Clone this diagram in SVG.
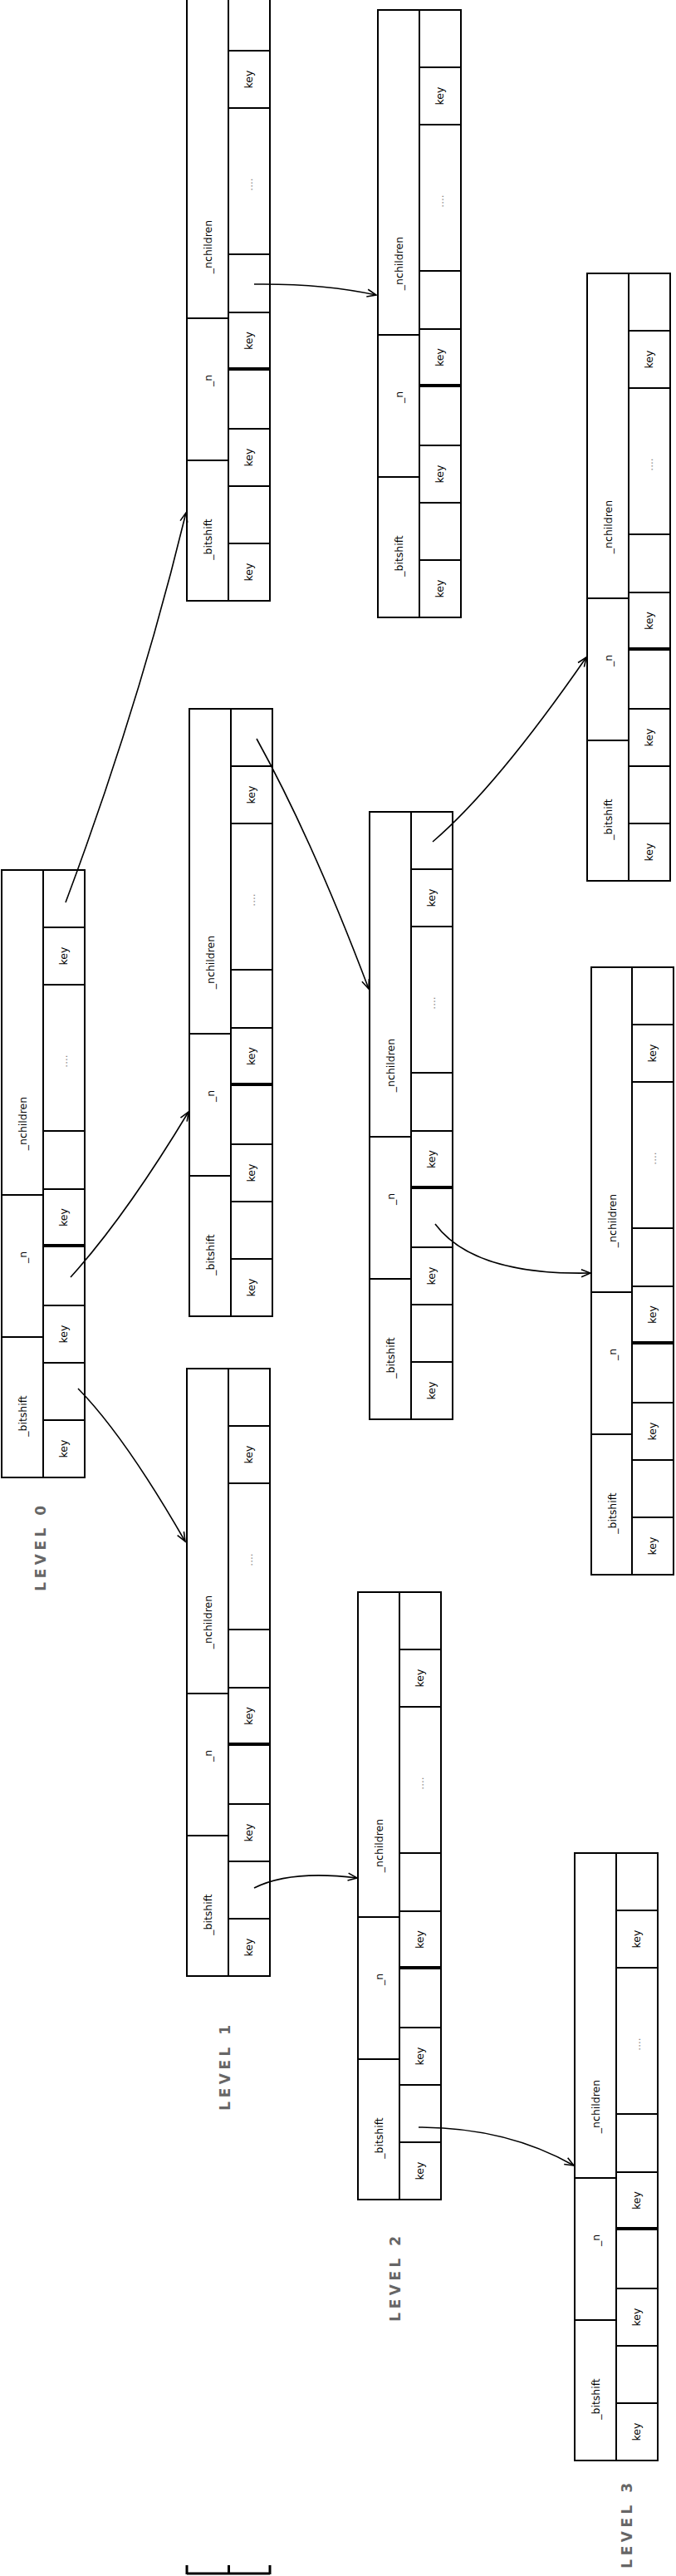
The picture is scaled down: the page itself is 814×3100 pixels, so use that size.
<svg xmlns="http://www.w3.org/2000/svg" width="814" height="3100" viewBox="0 0 814 3100">
<style>
.box{fill:#fff;stroke:#000;stroke-width:2}
.ln{stroke:#000;stroke-width:2;fill:none}
.thk{stroke:#000;stroke-width:4;fill:none}
.t{font-family:"DejaVu Sans",sans-serif;font-size:12.5px;fill:#000;text-anchor:middle}
.d{font-family:"DejaVu Sans",sans-serif;font-size:12px;fill:#888;text-anchor:middle}
.lv{font-family:"DejaVu Sans",sans-serif;font-size:17px;font-weight:bold;fill:#666;text-anchor:middle;letter-spacing:4.5px}
.c{stroke:#000;stroke-width:1.6;fill:none;marker-end:url(#ah)}
</style>
<defs>
<marker id="ah" markerUnits="userSpaceOnUse" viewBox="-1 -6 14 12" refX="11" refY="0" markerWidth="14" markerHeight="12" orient="auto">
<path d="M0,-4.5 L11,0 L0,4.5" fill="none" stroke="#000" stroke-width="1.6"/>
</marker>
</defs>
<rect width="814" height="3100" fill="#fff"/>

<g id="node-l0">
<rect class="box" x="2" y="1047" width="100" height="731"/>
<path class="ln" d="M52,1047V1778M2,1438H52M2,1609H52M52,1116H102M52,1185H102M52,1361H102M52,1431H102M52,1571H102M52,1640H102M52,1709H102"/>
<path class="thk" d="M52,1499H102"/>
<text class="t" transform="translate(32,1352) rotate(-90)">_nchildren</text>
<text class="t" transform="translate(32,1513) rotate(-90)">_n</text>
<text class="t" transform="translate(32,1704) rotate(-90)">_bitshift</text>
<text class="t" transform="translate(81,1150.5) rotate(-90)">key</text>
<text class="d" transform="translate(81,1277) rotate(-90)">....</text>
<text class="t" transform="translate(81,1465) rotate(-90)">key</text>
<text class="t" transform="translate(81,1605.5) rotate(-90)">key</text>
<text class="t" transform="translate(81,1743.5) rotate(-90)">key</text>
</g>

<g id="node-a">
<rect class="box" x="225" y="-8" width="100" height="731"/>
<path class="ln" d="M275,-8V723M225,383H275M225,554H275M275,61H325M275,130H325M275,306H325M275,376H325M275,516H325M275,585H325M275,654H325"/>
<path class="thk" d="M275,444H325"/>
<text class="t" transform="translate(255,297) rotate(-90)">_nchildren</text>
<text class="t" transform="translate(255,458) rotate(-90)">_n</text>
<text class="t" transform="translate(255,649) rotate(-90)">_bitshift</text>
<text class="t" transform="translate(304,95.5) rotate(-90)">key</text>
<text class="d" transform="translate(304,222) rotate(-90)">....</text>
<text class="t" transform="translate(304,410) rotate(-90)">key</text>
<text class="t" transform="translate(304,550.5) rotate(-90)">key</text>
<text class="t" transform="translate(304,688.5) rotate(-90)">key</text>
</g>

<g id="node-b">
<rect class="box" x="455" y="12" width="100" height="731"/>
<path class="ln" d="M505,12V743M455,403H505M455,574H505M505,81H555M505,150H555M505,326H555M505,396H555M505,536H555M505,605H555M505,674H555"/>
<path class="thk" d="M505,464H555"/>
<text class="t" transform="translate(485,317) rotate(-90)">_nchildren</text>
<text class="t" transform="translate(485,478) rotate(-90)">_n</text>
<text class="t" transform="translate(485,669) rotate(-90)">_bitshift</text>
<text class="t" transform="translate(534,115.5) rotate(-90)">key</text>
<text class="d" transform="translate(534,242) rotate(-90)">....</text>
<text class="t" transform="translate(534,430) rotate(-90)">key</text>
<text class="t" transform="translate(534,570.5) rotate(-90)">key</text>
<text class="t" transform="translate(534,708.5) rotate(-90)">key</text>
</g>

<g id="node-c">
<rect class="box" x="228" y="853" width="100" height="731"/>
<path class="ln" d="M278,853V1584M228,1244H278M228,1415H278M278,922H328M278,991H328M278,1167H328M278,1237H328M278,1377H328M278,1446H328M278,1515H328"/>
<path class="thk" d="M278,1305H328"/>
<text class="t" transform="translate(258,1158) rotate(-90)">_nchildren</text>
<text class="t" transform="translate(258,1319) rotate(-90)">_n</text>
<text class="t" transform="translate(258,1510) rotate(-90)">_bitshift</text>
<text class="t" transform="translate(307,956.5) rotate(-90)">key</text>
<text class="d" transform="translate(307,1083) rotate(-90)">....</text>
<text class="t" transform="translate(307,1271) rotate(-90)">key</text>
<text class="t" transform="translate(307,1411.5) rotate(-90)">key</text>
<text class="t" transform="translate(307,1549.5) rotate(-90)">key</text>
</g>

<g id="node-d">
<rect class="box" x="225" y="1647" width="100" height="731"/>
<path class="ln" d="M275,1647V2378M225,2038H275M225,2209H275M275,1716H325M275,1785H325M275,1961H325M275,2031H325M275,2171H325M275,2240H325M275,2309H325"/>
<path class="thk" d="M275,2099H325"/>
<text class="t" transform="translate(255,1952) rotate(-90)">_nchildren</text>
<text class="t" transform="translate(255,2113) rotate(-90)">_n</text>
<text class="t" transform="translate(255,2304) rotate(-90)">_bitshift</text>
<text class="t" transform="translate(304,1750.5) rotate(-90)">key</text>
<text class="d" transform="translate(304,1877) rotate(-90)">....</text>
<text class="t" transform="translate(304,2065) rotate(-90)">key</text>
<text class="t" transform="translate(304,2205.5) rotate(-90)">key</text>
<text class="t" transform="translate(304,2343.5) rotate(-90)">key</text>
</g>

<g id="node-e">
<rect class="box" x="445" y="977" width="100" height="731"/>
<path class="ln" d="M495,977V1708M445,1368H495M445,1539H495M495,1046H545M495,1115H545M495,1291H545M495,1361H545M495,1501H545M495,1570H545M495,1639H545"/>
<path class="thk" d="M495,1429H545"/>
<text class="t" transform="translate(475,1282) rotate(-90)">_nchildren</text>
<text class="t" transform="translate(475,1443) rotate(-90)">_n</text>
<text class="t" transform="translate(475,1634) rotate(-90)">_bitshift</text>
<text class="t" transform="translate(524,1080.5) rotate(-90)">key</text>
<text class="d" transform="translate(524,1207) rotate(-90)">....</text>
<text class="t" transform="translate(524,1395) rotate(-90)">key</text>
<text class="t" transform="translate(524,1535.5) rotate(-90)">key</text>
<text class="t" transform="translate(524,1673.5) rotate(-90)">key</text>
</g>

<g id="node-f">
<rect class="box" x="431" y="1916" width="100" height="731"/>
<path class="ln" d="M481,1916V2647M431,2307H481M431,2478H481M481,1985H531M481,2054H531M481,2230H531M481,2300H531M481,2440H531M481,2509H531M481,2578H531"/>
<path class="thk" d="M481,2368H531"/>
<text class="t" transform="translate(461,2221) rotate(-90)">_nchildren</text>
<text class="t" transform="translate(461,2382) rotate(-90)">_n</text>
<text class="t" transform="translate(461,2573) rotate(-90)">_bitshift</text>
<text class="t" transform="translate(510,2019.5) rotate(-90)">key</text>
<text class="d" transform="translate(510,2146) rotate(-90)">....</text>
<text class="t" transform="translate(510,2334) rotate(-90)">key</text>
<text class="t" transform="translate(510,2474.5) rotate(-90)">key</text>
<text class="t" transform="translate(510,2612.5) rotate(-90)">key</text>
</g>

<g id="node-g">
<rect class="box" x="707" y="329" width="100" height="731"/>
<path class="ln" d="M757,329V1060M707,720H757M707,891H757M757,398H807M757,467H807M757,643H807M757,713H807M757,853H807M757,922H807M757,991H807"/>
<path class="thk" d="M757,781H807"/>
<text class="t" transform="translate(737,634) rotate(-90)">_nchildren</text>
<text class="t" transform="translate(737,795) rotate(-90)">_n</text>
<text class="t" transform="translate(737,986) rotate(-90)">_bitshift</text>
<text class="t" transform="translate(786,432.5) rotate(-90)">key</text>
<text class="d" transform="translate(786,559) rotate(-90)">....</text>
<text class="t" transform="translate(786,747) rotate(-90)">key</text>
<text class="t" transform="translate(786,887.5) rotate(-90)">key</text>
<text class="t" transform="translate(786,1025.5) rotate(-90)">key</text>
</g>

<g id="node-h">
<rect class="box" x="712" y="1164" width="99" height="731"/>
<path class="ln" d="M761,1164V1895M712,1555H761M712,1726H761M761,1233H811M761,1302H811M761,1478H811M761,1548H811M761,1688H811M761,1757H811M761,1826H811"/>
<path class="thk" d="M761,1616H811"/>
<text class="t" transform="translate(742,1469) rotate(-90)">_nchildren</text>
<text class="t" transform="translate(742,1630) rotate(-90)">_n</text>
<text class="t" transform="translate(742,1821) rotate(-90)">_bitshift</text>
<text class="t" transform="translate(790,1267.5) rotate(-90)">key</text>
<text class="d" transform="translate(790,1394) rotate(-90)">....</text>
<text class="t" transform="translate(790,1582) rotate(-90)">key</text>
<text class="t" transform="translate(790,1722.5) rotate(-90)">key</text>
<text class="t" transform="translate(790,1860.5) rotate(-90)">key</text>
</g>

<g id="node-i">
<rect class="box" x="692" y="2230" width="100" height="731"/>
<path class="ln" d="M742,2230V2961M692,2621H742M692,2792H742M742,2299H792M742,2368H792M742,2544H792M742,2614H792M742,2754H792M742,2823H792M742,2892H792"/>
<path class="thk" d="M742,2682H792"/>
<text class="t" transform="translate(722,2535) rotate(-90)">_nchildren</text>
<text class="t" transform="translate(722,2696) rotate(-90)">_n</text>
<text class="t" transform="translate(722,2887) rotate(-90)">_bitshift</text>
<text class="t" transform="translate(771,2333.5) rotate(-90)">key</text>
<text class="d" transform="translate(771,2460) rotate(-90)">....</text>
<text class="t" transform="translate(771,2648) rotate(-90)">key</text>
<text class="t" transform="translate(771,2788.5) rotate(-90)">key</text>
<text class="t" transform="translate(771,2926.5) rotate(-90)">key</text>
</g>

<g id="connectors">
<path class="c" d="M79,1086 Q168,848 224,617"/>
<path class="c" d="M85,1537 Q151,1464 227,1338"/>
<path class="c" d="M94,1671 Q150,1728 223,1855"/>
<path class="c" d="M306,342 Q388,341 453,355"/>
<path class="c" d="M309,889 Q376,1010 444,1190"/>
<path class="c" d="M521,1013 Q598,947 706,791"/>
<path class="c" d="M306,2272 Q350,2250 430,2260"/>
<path class="c" d="M524,1473 Q570,1535 711,1532"/>
<path class="c" d="M504,2560 Q610,2560 691,2606"/>
</g>

<g id="labels">
<text class="lv" transform="translate(55,1861) rotate(-90)">LEVEL 0</text>
<text class="lv" transform="translate(277,2486) rotate(-90)">LEVEL 1</text>
<text class="lv" transform="translate(482,2740) rotate(-90)">LEVEL 2</text>
<text class="lv" transform="translate(761,3037) rotate(-90)">LEVEL 3</text>
</g>

<g id="bracket">
<path d="M225,3087V3098M275.5,3087V3098M325,3087V3098M225,3097H325" fill="none" stroke="#000" stroke-width="3"/>
</g>
</svg>
